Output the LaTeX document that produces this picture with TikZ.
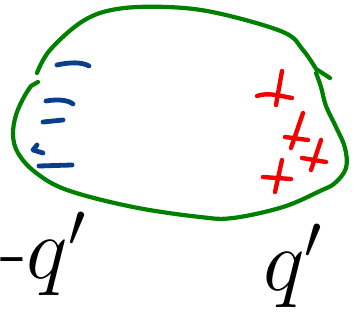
\RequirePackage{fix-cm}
\documentclass[tikz,border=0pt]{standalone}
\usepackage{fontspec}
\begin{document}
\begin{tikzpicture}[x=1pt,y=-1pt,
  greenline/.style={draw={rgb,255:red,0;green,128;blue,0},line width=4.2pt,line cap=round,line join=round},
  blueline/.style={draw={rgb,255:red,8;green,62;blue,138},line width=4.8pt,line cap=round,line join=round},
  redline/.style={draw={rgb,255:red,245;green,0;blue,0},line width=4.4pt,line cap=round,line join=round},
  hand/.style={inner sep=0pt,font=\fontsize{88}{88}\selectfont}]
\useasboundingbox (0,0) rectangle (353,320);
% green closed curve
\draw[greenline] plot[smooth,tension=0.6] coordinates {(37,73) (50,50) (83,21) (117,9) (167,7) (217,13) (283,32) (303,50) (316,69)} -- (330,78);
\draw[greenline] plot[smooth,tension=0.6] coordinates {(316,73) (321,87) (326,106) (336,127) (345,148) (346,168) (335,183) (320,191) (283,207) (233,218) (200,217) (133,207) (67,190) (35,172) (18,153) (13,135) (16,115) (24,97) (31,86)} -- (38,82);
% blue minus signs
\draw[blueline] (57,65) .. controls (70,62) and (82,62) .. (89,66);
\draw[blueline] (46,101) .. controls (58,99) and (68,100) .. (73,104);
\draw[blueline] (43,122) -- (63,120);
\draw[blueline] (37,145) -- (33,150) -- (43,153);
\draw[blueline] (39,166) -- (72,165);
% red plus signs
\draw[redline] (257,96) .. controls (268,92) and (280,96) .. (292,98);
\draw[redline] (282,71) -- (276,105);
\draw[redline] (303,113) -- (291,148);
\draw[redline] (285,137) -- (308,140);
\draw[redline] (321,140) -- (311,170);
\draw[redline] (302,158) -- (326,162);
\draw[redline] (282,160) -- (275,192);
\draw[redline] (263,177) -- (291,179);
% labels
\node[hand,anchor=base west] (lq) at (0,278) {-$q'$};
\node[hand,anchor=base west] (rq) at (263,290) {$q'$};
\end{tikzpicture}
\end{document}
